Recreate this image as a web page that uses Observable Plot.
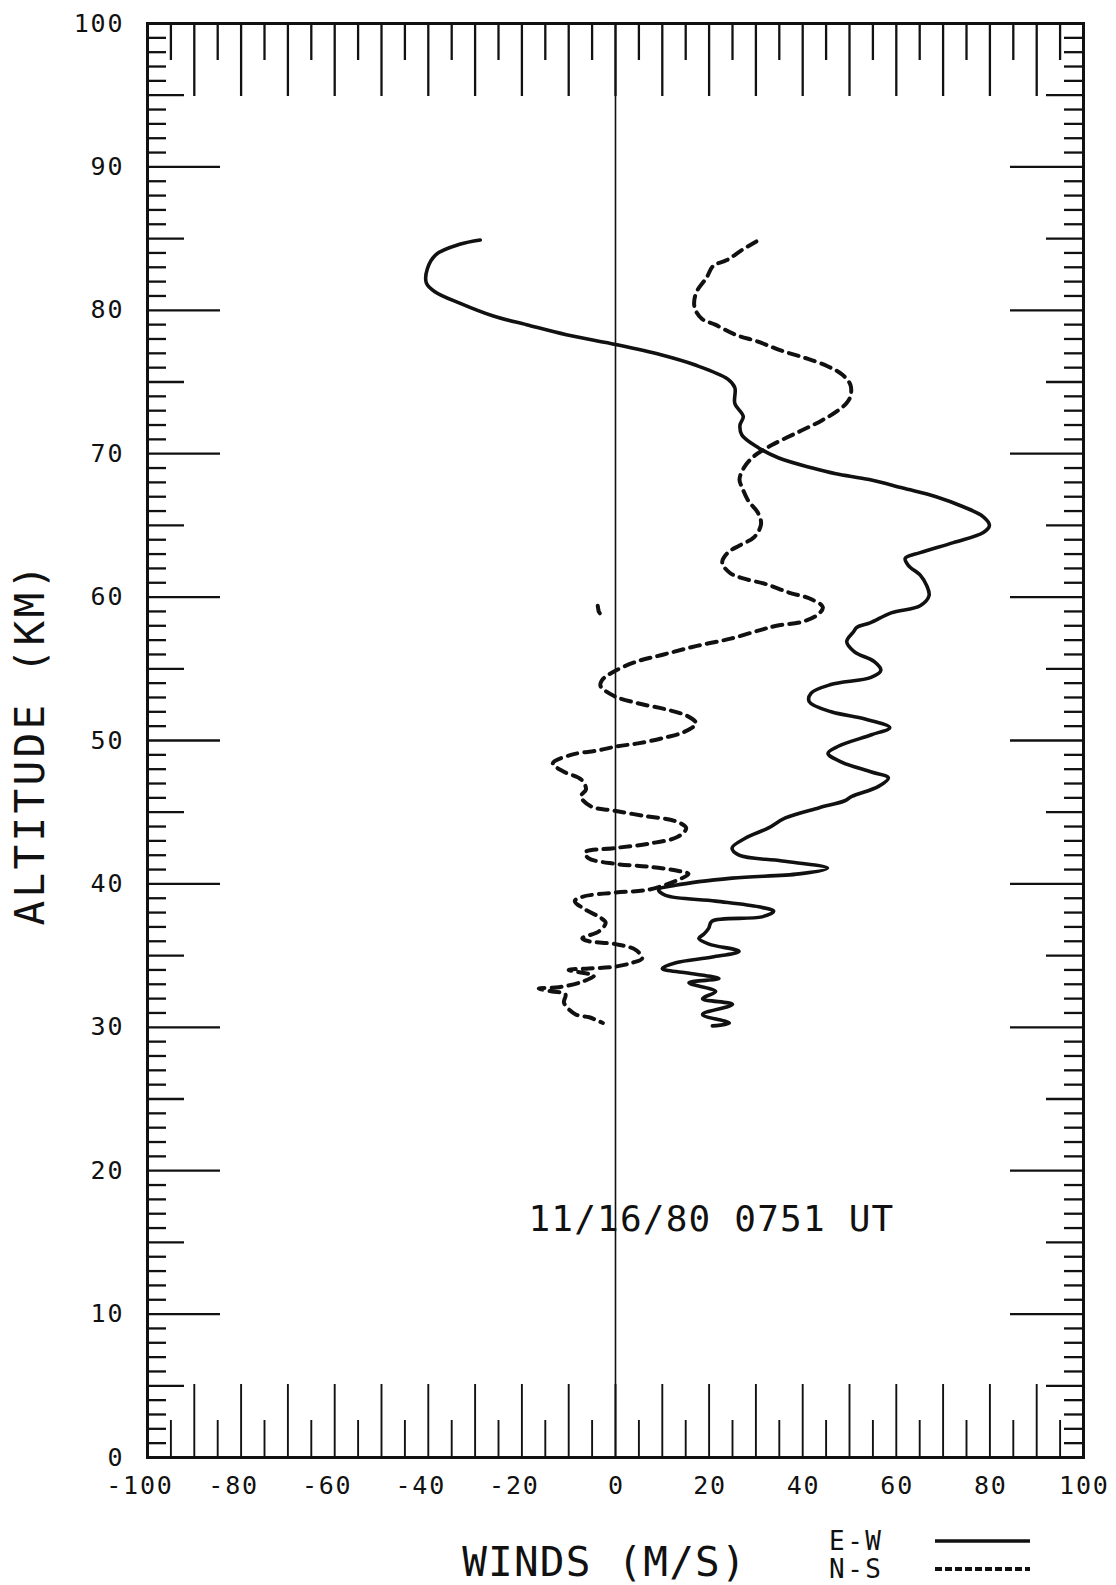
<!DOCTYPE html>
<html>
<head>
<meta charset="utf-8">
<script src="https://cdn.jsdelivr.net/npm/d3@7"></script>
<script src="https://cdn.jsdelivr.net/npm/@observablehq/plot@0.6"></script>
<style>
  html, body { margin: 0; padding: 0; background: #fff; }
  #chart svg { display: block; font-family: "DejaVu Sans Mono", monospace; }
  .legend text { letter-spacing: 2.5px; }
</style>
</head>
<body>
<div id="chart"></div>
<script>
// ---- data ----
// E-W (zonal) wind profile, top of profile first
const ewAlt = [84.9, 84.6, 83.9, 82.9, 81.9, 81.3, 80.5, 79.6, 79.0, 78.3,
  77.6, 76.9, 76.2, 75.2, 74.6, 73.5, 72.6, 72.0, 71.3, 70.4,
  69.7, 69.0, 68.6, 68.2, 67.6, 67.0, 66.3, 65.6, 65.0, 64.5,
  63.8, 63.1, 62.7, 62.2, 61.5, 60.8, 60.1, 59.4, 58.9, 58.2,
  57.9, 57.6, 56.9, 56.2, 55.5, 54.9, 54.4, 53.9, 53.3, 52.7,
  52.0, 51.5, 50.9, 50.4, 49.6, 49.1, 48.5, 47.8, 47.4, 46.8,
  46.1, 45.8, 45.3, 44.6, 43.9, 43.2, 42.5, 42.0, 41.6, 41.1,
  40.7, 40.4, 39.9, 39.6, 39.2, 38.8, 38.4, 38.1, 37.7, 37.4,
  36.9, 36.5, 36.2, 35.8, 35.3, 34.9, 34.5, 34.1, 33.8, 33.4,
  33.1, 32.5, 32.0, 31.6, 30.9, 30.3, 30.1];
const ewWind = [-28.9, -33.3, -38.3, -40.2, -40.4, -38.6, -33.3, -26.1, -19.0, -10.5,
  0.3, 9.7, 16.9, 24.0, 25.5, 25.5, 27.3, 26.6, 27.0, 30.6,
  34.9, 42.1, 47.1, 54.2, 61.4, 68.5, 74.3, 78.6, 79.9, 78.6,
  72.2, 65.1, 61.9, 62.6, 65.2, 66.5, 67.0, 65.1, 58.9, 54.4,
  51.6, 50.9, 49.4, 51.0, 55.3, 56.7, 54.6, 46.0, 41.8, 41.4,
  46.1, 53.3, 58.6, 54.7, 47.6, 45.4, 48.3, 54.7, 58.3, 56.2,
  50.5, 49.0, 43.4, 36.3, 32.7, 27.8, 24.9, 26.4, 35.6, 45.3,
  39.2, 24.9, 12.8, 9.2, 10.7, 21.4, 30.6, 33.8, 31.3, 20.6,
  19.9, 18.9, 17.8, 20.0, 26.4, 20.7, 12.9, 10.0, 15.0, 22.1,
  15.7, 21.4, 18.6, 25.0, 18.6, 24.3, 20.7];

// N-S (meridional) wind profile
const nsAlt = [84.8, 84.2, 83.5, 83.1, 82.3, 81.2, 80.2, 79.4, 79.0, 78.3,
  77.8, 77.2, 76.7, 76.1, 75.5, 74.8, 74.0, 73.5, 73.0, 72.3,
  71.5, 70.6, 69.8, 69.0, 68.2, 67.6, 66.7, 65.9, 65.1, 64.2,
  63.6, 63.1, 62.4, 61.7, 61.3, 60.9, 60.3, 59.9, 59.3, 58.8,
  58.3, 58.0, 57.7, 57.1, 56.6, 56.0, 55.5, 54.8, 54.2, 53.8,
  53.1, 52.6, 52.2, 51.7, 51.2, 50.6, 50.2, 49.8, 49.6, 49.3,
  49.0, 48.4, 47.8, 47.3, 46.6, 46.1, 45.4, 45.1, 44.7, 44.4,
  43.9, 43.3, 42.8, 42.5, 42.2, 41.8, 41.4, 41.2, 40.9, 40.7,
  40.2, 39.6, 39.4, 39.1, 38.8, 38.2, 37.7, 37.3, 36.7, 36.2,
  36.0, 35.8, 35.4, 34.8, 34.5, 34.2, 34.1, 34.0, 33.8, 33.6,
  33.1, 32.8, 32.7, 32.5, 32.3, 31.7, 30.9, 30.7, 30.4, 30.3];
const nsWind = [30.1, 27.0, 23.8, 20.9, 19.5, 17.2, 16.9, 18.5, 21.3, 25.6,
  30.6, 35.3, 40.3, 45.3, 48.5, 50.2, 50.2, 49.3, 47.5, 44.0,
  39.0, 33.4, 29.5, 27.4, 26.5, 27.1, 28.4, 30.4, 31.1, 29.7,
  26.5, 24.0, 22.8, 24.4, 27.3, 32.2, 37.2, 41.5, 44.3, 43.3,
  40.1, 34.4, 30.9, 24.6, 17.4, 10.3, 4.5, -0.4, -2.9, -3.2,
  -0.3, 4.7, 10.4, 15.4, 17.2, 14.7, 10.5, 4.8, 0.5, -3.8,
  -9.5, -13.4, -10.9, -7.4, -6.3, -7.4, -5.2, -0.2, 6.9, 12.6,
  15.1, 13.4, 7.0, -0.1, -6.5, -5.8, -0.1, 7.1, 13.5, 15.6,
  12.8, 7.1, 0.0, -7.1, -8.7, -6.4, -3.5, -2.1, -3.5, -7.1,
  -5.7, 0.0, 4.3, 5.7, 3.6, -0.7, -5.7, -10.0, -7.1, -4.6,
  -7.8, -12.1, -16.4, -13.5, -10.7, -11.0, -8.5, -5.6, -3.4, -2.7];

// isolated N-S fragment near 59 km
const nsFragAlt = [59.4, 59.0, 58.6];
const nsFragWind = [-3.8, -3.6, -2.8];

// axis ticks and labels
const xLabels = [-100, -80, -60, -40, -20, 0, 20, 40, 60, 80, 100];
const yLabels = [0, 10, 20, 30, 40, 50, 60, 70, 80, 90, 100];
const xMajorTicks = [-90, -80, -70, -60, -50, -40, -30, -20, -10, 0, 10, 20, 30, 40, 50, 60, 70, 80, 90];
const xMinorTicks = [-95, -85, -75, -65, -55, -45, -35, -25, -15, -5, 5, 15, 25, 35, 45, 55, 65, 75, 85, 95];
const yMajorTicks = [10, 20, 30, 40, 50, 60, 70, 80, 90];
const yMidTicks = [5, 15, 25, 35, 45, 55, 65, 75, 85, 95];
const yMinorTicks = d3.range(1, 100).filter(d => d % 5 !== 0);

const xTitle = "WINDS (M/S)";
const yTitle = "ALTITUDE (KM)";
const stamp = {text: "11/16/80 0751 UT", wind: 20.5, alt: 16.6};
const legendItems = [{name: "E-W", dash: null}, {name: "N-S", dash: "7,3"}];

// ---- build tables ----
const ew = ewAlt.map((a, i) => ({alt: a, wind: ewWind[i]}));
const ns = nsAlt.map((a, i) => ({alt: a, wind: nsWind[i]}));
const nsFrag = nsFragAlt.map((a, i) => ({alt: a, wind: nsFragWind[i]}));

// ---- layout ----
const W = 1116, H = 1585;
const mL = 147, mR = 33, mT = 23, mB = 128;
const pW = W - mL - mR, pH = H - mT - mB;
const LONG = 73, MID = 37, SHORT = 19;
const fsTick = 25, lsTick = 1.8, pitch = 0.602 * fsTick + lsTick;
const nd = d => String(Math.abs(d)).length;

const tickW = 2.3;
const marks = [
  // top / bottom ticks
  Plot.tickX(xMajorTicks, {x: d => d, insetBottom: pH - LONG, strokeWidth: tickW}),
  Plot.tickX(xMinorTicks, {x: d => d, insetBottom: pH - MID, strokeWidth: tickW}),
  Plot.tickX(xMajorTicks, {x: d => d, insetTop: pH - LONG, strokeWidth: 1.9}),
  Plot.tickX(xMinorTicks, {x: d => d, insetTop: pH - MID, strokeWidth: 1.9}),
  // left / right ticks
  Plot.tickY(yMajorTicks, {y: d => d, insetRight: pW - LONG, strokeWidth: tickW}),
  Plot.tickY(yMidTicks, {y: d => d, insetRight: pW - MID, strokeWidth: tickW}),
  Plot.tickY(yMinorTicks, {y: d => d, insetRight: pW - SHORT, strokeWidth: tickW}),
  Plot.tickY(yMajorTicks, {y: d => d, insetLeft: pW - LONG, strokeWidth: tickW}),
  Plot.tickY(yMidTicks, {y: d => d, insetLeft: pW - MID, strokeWidth: tickW}),
  Plot.tickY(yMinorTicks, {y: d => d, insetLeft: pW - SHORT, strokeWidth: tickW}),
  // zero line
  Plot.ruleX([0], {strokeWidth: 1.6}),
  Plot.frame({strokeWidth: 3}),
  // profiles
  Plot.line(ew, {x: "wind", y: "alt", strokeWidth: 3.6, curve: "catmull-rom", strokeLinejoin: "round"}),
  Plot.line(ns, {x: "wind", y: "alt", strokeWidth: 4, strokeDasharray: "10,7", curve: "catmull-rom"}),
  Plot.line(nsFrag, {x: "wind", y: "alt", strokeWidth: 4, strokeDasharray: "8,5"}),
  // y tick labels
  Plot.text(yLabels, {frameAnchor: "left", y: d => d, text: d => String(d), textAnchor: "end",
    dx: -25 + lsTick, fontSize: fsTick, lineAnchor: "middle"}),
  // x tick labels (digits centred on the tick, minus sign hanging left)
  ...[1, 2, 3].map(n => Plot.text(xLabels.filter(d => nd(d) === n), {
    x: d => d, frameAnchor: "bottom", text: d => String(d), textAnchor: "end",
    dx: n * pitch / 2 + lsTick / 2, dy: 28, lineAnchor: "middle", fontSize: fsTick})),
  // titles
  Plot.text([yTitle], {frameAnchor: "left", text: d => d, rotate: -90, textAnchor: "middle",
    dx: -117, dy: 3, fontSize: 41, lineAnchor: "middle"}),
  Plot.text([xTitle], {frameAnchor: "bottom", text: d => d, textAnchor: "middle", dx: -11, dy: 118,
    fontSize: 41, lineAnchor: "bottom"}),
  // date stamp
  Plot.text([stamp], {x: "wind", y: "alt", text: "text", fontSize: 36, lineAnchor: "middle"})
];

const chart = Plot.plot({
  width: W, height: H,
  marginLeft: mL, marginRight: mR, marginTop: mT, marginBottom: mB,
  x: {domain: [-100, 100], axis: null},
  y: {domain: [0, 100], axis: null},
  style: {background: "#fff", color: "#111"},
  marks
});

// letter spacing of the plotter-style lettering
const svg = d3.select(chart);
svg.selectAll("text").each(function() {
  const t = this.textContent;
  let ls = null;
  if (t === yTitle) ls = 3.3;
  else if (t === xTitle) ls = 1.2;
  else if (t === stamp.text) ls = 1.2;
  else if (/^-?\d+$/.test(t)) ls = lsTick;
  if (ls !== null) d3.select(this).style("letter-spacing", ls + "px");
});

// legend (bottom right)
const lg = svg.append("g").attr("class", "legend").attr("font-size", 26)
  .attr("fill", "#111").attr("text-anchor", "start");
legendItems.forEach((it, i) => {
  const base = 1550 + i * 28;
  lg.append("text").attr("x", 829).attr("y", base).text(it.name);
  const ln = lg.append("line").attr("x1", 935).attr("x2", 1030)
    .attr("y1", base - 9).attr("y2", base - 9)
    .attr("stroke", "#111").attr("stroke-width", i === 0 ? 3.5 : 4);
  if (it.dash) ln.attr("stroke-dasharray", it.dash);
});

document.getElementById("chart").appendChild(chart);
</script>
</body>
</html>
